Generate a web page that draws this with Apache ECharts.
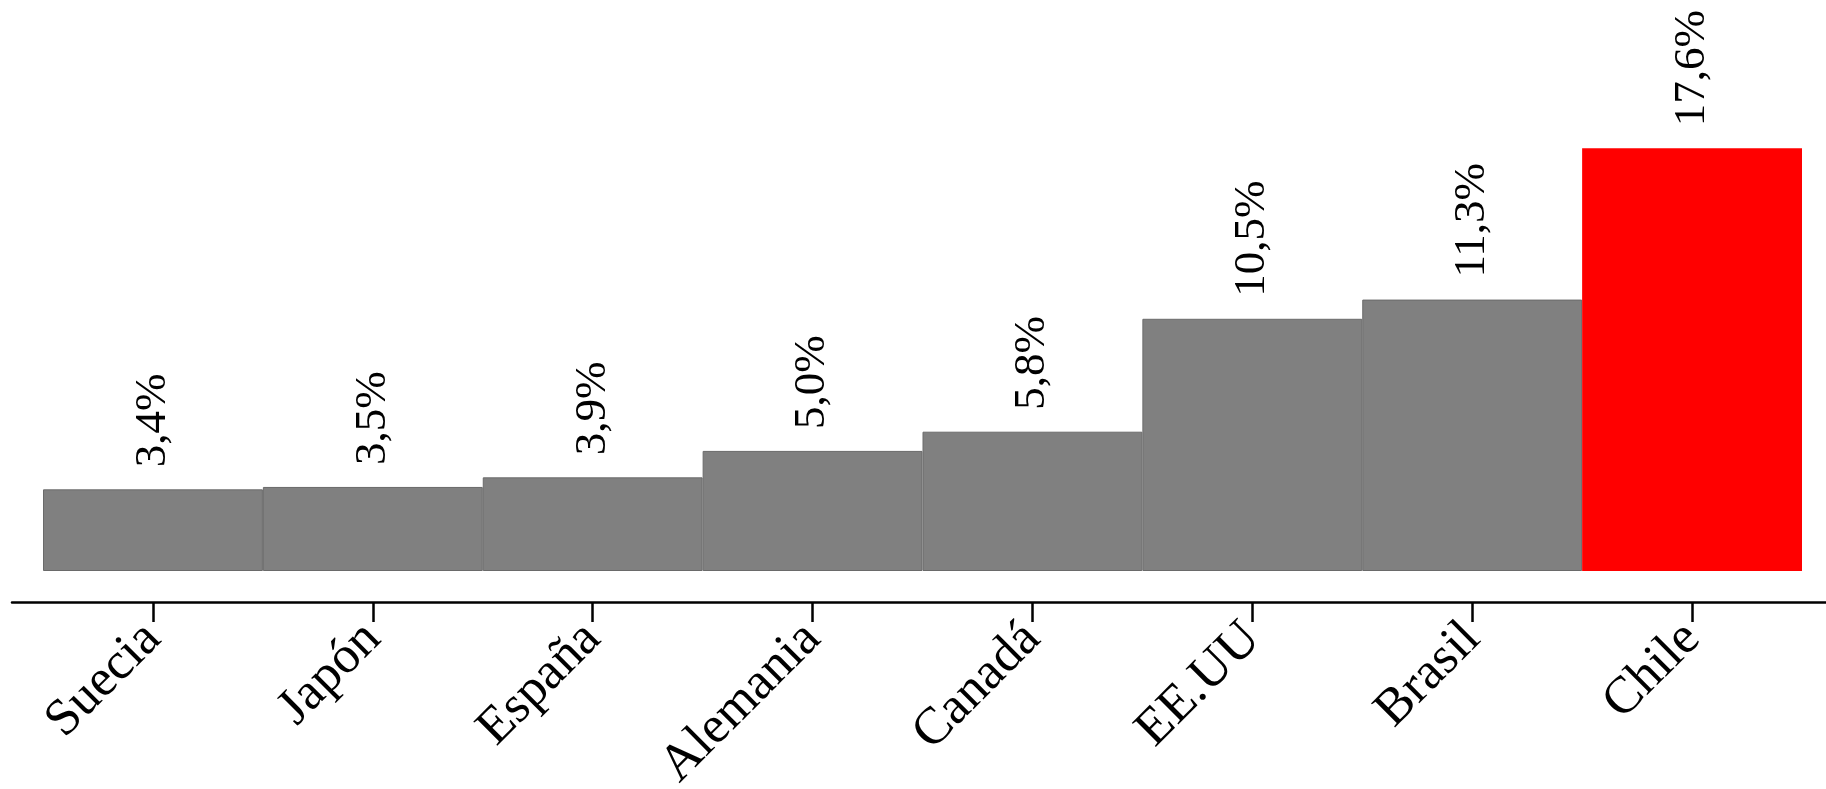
<!DOCTYPE html>
<html>
<head>
<meta charset="utf-8">
<script src="https://cdn.jsdelivr.net/npm/echarts@6/dist/echarts.min.js"></script>
<style>
html,body{margin:0;padding:0;background:#fff;}
#c{width:1826px;height:789px;}
</style>
</head>
<body>
<div id="c"></div>
<script>
const categories = ['Suecia','Japón','España','Alemania','Canadá','EE.UU','Brasil','Chile'];
const values = [3.4, 3.5, 3.9, 5.0, 5.8, 10.5, 11.3, 17.6];
const highlight = 'Chile';

const FONT = '"Liberation Serif", "Times New Roman", serif';
const chart = echarts.init(document.getElementById('c'), null, {renderer: 'canvas'});

const data = values.map((v, i) => ({
  value: v,
  itemStyle: categories[i] === highlight
    ? {color: '#ff0000', borderColor: '#ff0000', borderWidth: 0}
    : {color: '#808080', borderColor: '#6a6a6a', borderWidth: 1}
}));

chart.setOption({
  animation: false,
  backgroundColor: '#ffffff',
  grid: [
    {left: 43, right: 24, top: 90.6, bottom: 187, containLabel: false, outerBoundsMode: 'none'},
    {left: 12, right: 0, top: 90.6, bottom: 187, containLabel: false, outerBoundsMode: 'none'}
  ],
  xAxis: [
    {
      type: 'category',
      gridIndex: 0,
      data: categories,
      axisLine: {show: false, onZero: false},
      axisTick: {show: true, alignWithLabel: true, length: 20, lineStyle: {color: '#000', width: 2.5}},
      axisLabel: {
        rotate: 45,
        margin: 29,
        color: '#000',
        fontFamily: FONT,
        fontSize: 52,
        interval: 0
      }
    },
    {
      type: 'value',
      gridIndex: 1,
      min: 0,
      max: 1,
      axisLine: {show: true, onZero: false, lineStyle: {color: '#000', width: 2.5}},
      axisTick: {show: false},
      axisLabel: {show: false},
      splitLine: {show: false}
    }
  ],
  yAxis: [
    {type: 'value', gridIndex: 0, min: -1.29, max: 20, show: false, splitLine: {show: false}},
    {type: 'value', gridIndex: 1, min: 0, max: 1, show: false, splitLine: {show: false}}
  ],
  series: [{
    type: 'bar',
    xAxisIndex: 0,
    yAxisIndex: 0,
    data: data,
    barCategoryGap: '0%',
    barWidth: '100%',
    label: {
      show: true,
      position: 'top',
      rotate: 90,
      align: 'left',
      verticalAlign: 'middle',
      distance: 22,
      color: '#000',
      fontFamily: FONT,
      fontSize: 45,
      formatter: p => p.value.toFixed(1).replace('.', ',') + '%'
    }
  }]
});
</script>
</body>
</html>
